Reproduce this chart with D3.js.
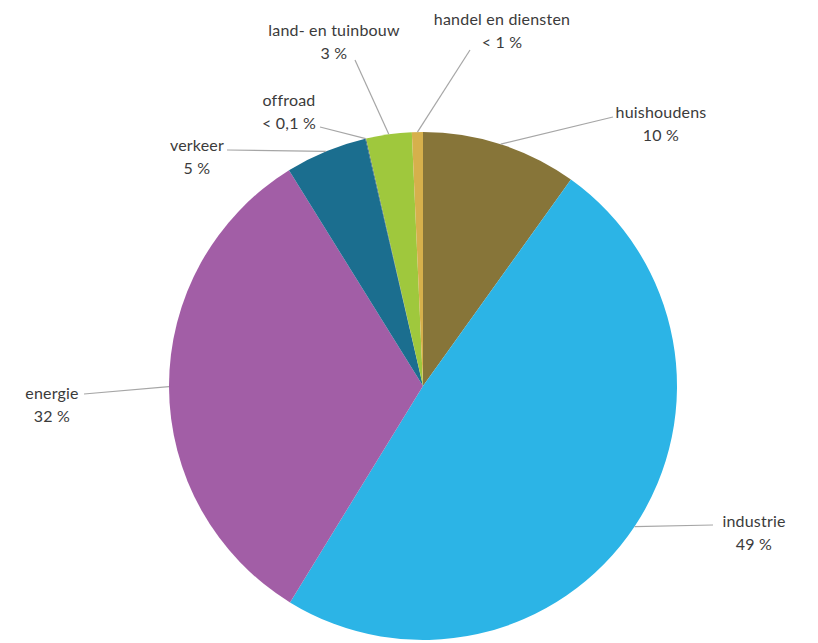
<!DOCTYPE html>
<html>
<head>
<meta charset="utf-8">
<script src="https://cdn.jsdelivr.net/npm/d3@7"></script>
<style>
  html, body { margin: 0; padding: 0; background: #ffffff; }
  svg { display: block; }
  text { font-family: Lato, "Open Sans", sans-serif; fill: #3b3b3b; }
</style>
</head>
<body>
<svg id="chart" width="818" height="643"></svg>
<script>
// Sector shares of emissions (percent), clockwise from 12 o'clock
const categories = ["huishoudens", "industrie", "energie", "verkeer", "offroad", "land- en tuinbouw", "handel en diensten"];
const shares = [9.9, 48.9, 32.4, 5.2, 0.05, 2.9, 0.7];
const shareLabels = ["10 %", "49 %", "32 %", "5 %", "< 0,1 %", "3 %", "< 1 %"];
const colors = ["#877539", "#2cb4e6", "#a25ea6", "#1b6e8f", "#2a5a7a", "#9fc83d", "#d6b04c"];

// Label layout: text centre x, first baseline y, leader-line end point
const labelLayout = [
  { cx: 661, y: 118, lx: 613, ly: 117 },
  { cx: 754, y: 527, lx: 713, ly: 525 },
  { cx: 52,  y: 399, lx: 84,  ly: 394 },
  { cx: 197, y: 151, lx: 227, ly: 150 },
  { cx: 289, y: 106, lx: 320, ly: 127 },
  { cx: 334, y: 36,  lx: 355, ly: 60 },
  { cx: 502, y: 25,  lx: 470, ly: 50 }
];

const svg = d3.select("#chart");
const cx = 423, cy = 386, radius = 254;

const data = categories.map((c, i) => ({ name: c, value: shares[i], label: shareLabels[i], i }));

const pie = d3.pie().value(d => d.value).sort(null).startAngle(0).endAngle(2 * Math.PI);
const arcs = pie(data);

const arc = d3.arc().innerRadius(0).outerRadius(radius);
const edge = d3.arc().innerRadius(radius).outerRadius(radius);

const g = svg.append("g").attr("transform", `translate(${cx},${cy})`);

g.selectAll("path.slice")
  .data(arcs)
  .join("path")
  .attr("class", "slice")
  .attr("d", arc)
  .attr("fill", d => colors[d.data.i]);

// Leader lines from slice edge to label
g.selectAll("line.leader")
  .data(arcs)
  .join("line")
  .attr("class", "leader")
  .attr("x1", d => edge.centroid(d)[0])
  .attr("y1", d => edge.centroid(d)[1])
  .attr("x2", d => labelLayout[d.data.i].lx - cx)
  .attr("y2", d => labelLayout[d.data.i].ly - cy)
  .attr("stroke", "#a6a6a6")
  .attr("stroke-width", 1.2);

// Two-line data labels: category name and share
const labels = svg.selectAll("text.lbl")
  .data(arcs)
  .join("text")
  .attr("class", "lbl")
  .attr("text-anchor", "middle")
  .attr("font-size", 16)
  .attr("letter-spacing", 0.2)
  .attr("x", d => labelLayout[d.data.i].cx)
  .attr("y", d => labelLayout[d.data.i].y);

labels.append("tspan")
  .attr("x", d => labelLayout[d.data.i].cx)
  .text(d => d.data.name);
labels.append("tspan")
  .attr("x", d => labelLayout[d.data.i].cx)
  .attr("dy", 23)
  .text(d => d.data.label);
</script>
</body>
</html>
